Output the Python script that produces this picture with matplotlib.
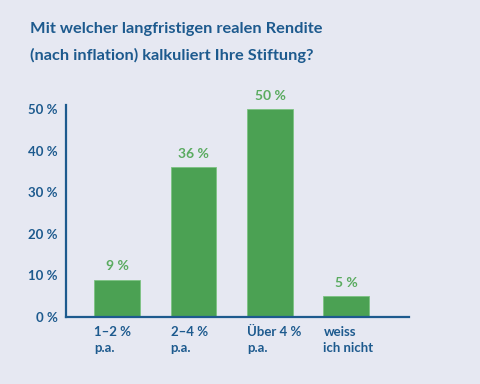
import matplotlib
matplotlib.use("Agg")
import matplotlib.pyplot as plt
import numpy as np

plt.rcParams['font.family'] = ['Lato', 'DejaVu Sans']

categories = ["1–2 %\np.a.", "2–4 %\np.a.", "Über 4 %\np.a.", "weiss\nich nicht"]
values = [9, 36, 50, 5]
value_labels = ["9 %", "36 %", "50 %", "5 %"]
yticks = [0, 10, 20, 30, 40, 50]
ytick_labels = ["0 %", "10 %", "20 %", "30 %", "40 %", "50 %"]
title = "Mit welcher langfristigen realen Rendite\n(nach inflation) kalkuliert Ihre Stiftung?"

bg = '#e6e8f2'
blue = '#1d5a8e'
green = '#4ba153'
green_text = '#5aab60'

fig = plt.figure(figsize=(4.8, 3.84), dpi=100)
fig.patch.set_facecolor(bg)
ax = fig.add_axes([0.1375, 0.1745, 0.7145, 0.552])
ax.set_facecolor(bg)

x = np.arange(len(values))
width = 0.6
ax.bar(x, values, width=width, color=green, edgecolor='#7cc282', linewidth=0.6, zorder=2)

for xi, v, lab in zip(x, values, value_labels):
    ax.text(xi, v + 1.8, lab, ha='center', va='bottom', color=green_text,
            fontsize=10, fontweight='bold')

for xi, lab in zip(x, categories):
    ax.text(xi - width / 2, -2.2, lab, ha='left', va='top', color=blue,
            fontsize=9.5, fontweight='bold', linespacing=1.4)

ax.set_xlim(-0.67, 3.82)
ax.set_ylim(0, 51)
ax.set_xticks([])
ax.set_yticks(yticks)
ax.set_yticklabels(ytick_labels, color=blue, fontsize=9.5, fontweight='bold')
ax.tick_params(axis='y', length=0, pad=6)

for s in ['top', 'right']:
    ax.spines[s].set_visible(False)
for s in ['left', 'bottom']:
    ax.spines[s].set_color(blue)
    ax.spines[s].set_linewidth(1.6)

fig.text(30 / 480, 1 - 22 / 384, title, ha='left', va='top', color=blue,
         fontsize=11.8, fontweight='bold', linespacing=1.95)

fig.savefig("out.png", dpi=100, facecolor=bg)
